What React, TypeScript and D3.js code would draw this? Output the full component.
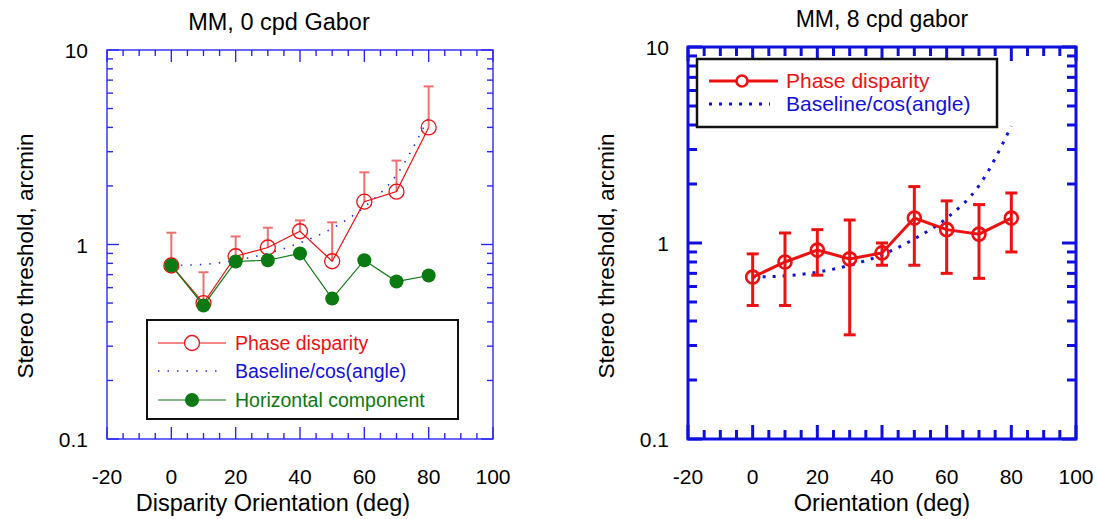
import * as d3 from 'd3';

// ---- data ----
const angles = [0, 10, 20, 30, 40, 50, 60, 70, 80];

// left panel: MM, 0 cpd Gabor
const phaseL = [0.78, 0.5, 0.87, 0.965, 1.17, 0.82, 1.66, 1.87, 4.0];
const phaseLErrTop = [1.15, 0.72, 1.1, 1.22, 1.33, 1.3, 2.35, 2.7, 6.5];
const baselineL = [0.78, 0.79, 0.83, 0.9, 1.02, 1.21, 1.56, 2.28, 4.5];
const horizontalL = [0.78, 0.486, 0.818, 0.83, 0.9, 0.527, 0.83, 0.645, 0.693];

// right panel: MM, 8 cpd gabor
const phaseR = [0.67, 0.8, 0.92, 0.83, 0.89, 1.34, 1.17, 1.11, 1.34];
const phaseRErrTop = [0.88, 1.125, 1.17, 1.31, 1.0, 1.94, 1.64, 1.57, 1.8];
const phaseRErrBottom = [0.48, 0.48, 0.685, 0.34, 0.77, 0.77, 0.7, 0.66, 0.9];
const baselineR = [0.67, 0.68, 0.71, 0.77, 0.87, 1.05, 1.34, 1.96, 3.95];

const xTickLabels = [-20, 0, 20, 40, 60, 80, 100];
const yTickLabels = [0.1, 1, 10];

const FONT = 'Liberation Sans, Arial, sans-serif';
const RED = '#ee1111';
const BLUE = '#1111dd';
const GREEN = '#0b7a12';

const minorX = d3.range(-20, 101, 5);
const minorY = [0.1, 1].flatMap(d => d3.range(1, 10).map(k => +(d * k).toFixed(2))).concat([10]);

type Sc = d3.ScaleLinear<number, number>;
type Lg = d3.ScaleLogarithmic<number, number>;

const Frame = ({ x, y, stroke, sw, major, minor }:
  { x: Sc; y: Lg; stroke: string; sw: number; major: number; minor: number }) => {
  const [x0, x1] = x.range();
  const [y0, y1] = y.range();
  return (
    <g>
      {minorX.map(v => {
        const len = v % 20 === 0 ? major : minor;
        return (
          <g key={'x' + v}>
            <line x1={x(v)} x2={x(v)} y1={y0} y2={y0 - len} stroke={stroke} strokeWidth={sw} />
            <line x1={x(v)} x2={x(v)} y1={y1} y2={y1 + len} stroke={stroke} strokeWidth={sw} />
          </g>
        );
      })}
      {minorY.map(v => {
        const len = yTickLabels.includes(v) ? major : minor;
        return (
          <g key={'y' + v}>
            <line x1={x0} x2={x0 + len} y1={y(v)} y2={y(v)} stroke={stroke} strokeWidth={sw} />
            <line x1={x1} x2={x1 - len} y1={y(v)} y2={y(v)} stroke={stroke} strokeWidth={sw} />
          </g>
        );
      })}
      <rect x={x0} y={y1} width={x1 - x0} height={y0 - y1} fill="none" stroke={stroke} strokeWidth={sw} />
      {xTickLabels.map(v => (
        <text key={'xl' + v} x={x(v)} y={484} textAnchor="middle" fontSize={21} fontFamily={FONT}>{v}</text>
      ))}
      {yTickLabels.map(v => (
        <text key={'yl' + v} x={x0 - 19} y={y(v) + 8} textAnchor="end" fontSize={21} fontFamily={FONT}>{v}</text>
      ))}
    </g>
  );
};

const App = () => {
  // left panel scales
  const xL = d3.scaleLinear().domain([-20, 100]).range([107, 493]);
  const yL = d3.scaleLog().domain([0.1, 10]).range([439, 50]);
  // right panel scales
  const xR = d3.scaleLinear().domain([-20, 100]).range([688, 1076]);
  const yR = d3.scaleLog().domain([0.1, 10]).range([439, 47]);

  const lineL = d3.line<number>().x((_, i) => xL(angles[i])).y(d => yL(d));
  const curveL = d3.line<number>().x((_, i) => xL(angles[i])).y(d => yL(d)).curve(d3.curveMonotoneX);
  const lineR = d3.line<number>().x((_, i) => xR(angles[i])).y(d => yR(d));
  const curveR = d3.line<number>().x((_, i) => xR(angles[i])).y(d => yR(d)).curve(d3.curveMonotoneX);

  return (
    <svg width={1097} height={519} style={{ position: 'absolute', left: 0, top: 0, background: '#fff' }}>
      {/* ---------- left panel ---------- */}
      <text x={279} y={30} textAnchor="middle" fontSize={23.5} fontFamily={FONT}>MM, 0 cpd Gabor</text>
      <Frame x={xL} y={yL} stroke="#2a2af5" sw={1.4} major={12} minor={6} />
      <text x={273} y={511} textAnchor="middle" fontSize={23.5} fontFamily={FONT}>Disparity Orientation (deg)</text>
      <text transform="translate(33,256) rotate(-90)" textAnchor="middle" fontSize={22.5} fontFamily={FONT}>Stereo threshold, arcmin</text>

      {phaseL.map((v, i) => (
        <g key={'el' + i} stroke="#f07070" strokeWidth={2}>
          <line x1={xL(angles[i])} x2={xL(angles[i])} y1={yL(v)} y2={yL(phaseLErrTop[i])} />
          <line x1={xL(angles[i]) - 5} x2={xL(angles[i]) + 5} y1={yL(phaseLErrTop[i])} y2={yL(phaseLErrTop[i])} />
        </g>
      ))}
      <path d={curveL(baselineL) || ''} fill="none" stroke="#2a2af5" strokeWidth={1.6} strokeDasharray="1.5,8" />
      <path d={lineL(phaseL) || ''} fill="none" stroke={RED} strokeWidth={1.2} />
      {phaseL.map((v, i) => (
        <circle key={'pl' + i} cx={xL(angles[i])} cy={yL(v)} r={7.5} fill="none" stroke={RED} strokeWidth={1.3} />
      ))}
      <path d={lineL(horizontalL) || ''} fill="none" stroke={GREEN} strokeWidth={1.2} />
      {horizontalL.map((v, i) => (
        <circle key={'hl' + i} cx={xL(angles[i])} cy={yL(v)} r={7} fill={GREEN} />
      ))}

      {/* left legend */}
      <rect x={147} y={320} width={311} height={99} fill="#fff" stroke="#111" strokeWidth={2} />
      <line x1={158} x2={226} y1={343} y2={343} stroke={RED} strokeWidth={1.2} />
      <circle cx={192} cy={343} r={7.5} fill="#fff" stroke={RED} strokeWidth={1.3} />
      <text x={235} y={350} fontSize={19.5} fontFamily={FONT} fill={RED}>Phase disparity</text>
      <line x1={158} x2={218} y1={371} y2={371} stroke="#2a2af5" strokeWidth={1.6} strokeDasharray="1.5,8" />
      <text x={235} y={378} fontSize={19.5} fontFamily={FONT} fill={BLUE}>Baseline/cos(angle)</text>
      <line x1={158} x2={226} y1={400} y2={400} stroke={GREEN} strokeWidth={1.2} />
      <circle cx={192} cy={400} r={7} fill={GREEN} />
      <text x={235} y={407} fontSize={19.5} fontFamily={FONT} fill={GREEN}>Horizontal component</text>

      {/* ---------- right panel ---------- */}
      <text x={882} y={27} textAnchor="middle" fontSize={23} fontFamily={FONT}>MM, 8 cpd gabor</text>
      <Frame x={xR} y={yR} stroke="#1010dd" sw={3} major={14} minor={9} />
      <text x={882} y={511} textAnchor="middle" fontSize={23.5} fontFamily={FONT}>Orientation (deg)</text>
      <text transform="translate(614,256) rotate(-90)" textAnchor="middle" fontSize={22.5} fontFamily={FONT}>Stereo threshold, arcmin</text>

      <path d={curveR(baselineR) || ''} fill="none" stroke={BLUE} strokeWidth={3} strokeDasharray="3,7" />
      {phaseR.map((v, i) => (
        <g key={'er' + i} stroke={RED} strokeWidth={3}>
          <line x1={xR(angles[i])} x2={xR(angles[i])} y1={yR(phaseRErrBottom[i])} y2={yR(phaseRErrTop[i])} />
          <line x1={xR(angles[i]) - 6} x2={xR(angles[i]) + 6} y1={yR(phaseRErrTop[i])} y2={yR(phaseRErrTop[i])} />
          <line x1={xR(angles[i]) - 6} x2={xR(angles[i]) + 6} y1={yR(phaseRErrBottom[i])} y2={yR(phaseRErrBottom[i])} />
        </g>
      ))}
      <path d={lineR(phaseR) || ''} fill="none" stroke={RED} strokeWidth={3} />
      {phaseR.map((v, i) => (
        <circle key={'pr' + i} cx={xR(angles[i])} cy={yR(v)} r={6.5} fill="none" stroke={RED} strokeWidth={2.6} />
      ))}

      {/* right legend */}
      <rect x={697} y={59} width={300} height={68} fill="#fff" stroke="#111" strokeWidth={2.5} />
      <line x1={709} x2={778} y1={81} y2={81} stroke={RED} strokeWidth={3} />
      <circle cx={742} cy={81} r={5.5} fill="#fff" stroke={RED} strokeWidth={2.6} />
      <text x={786} y={88} fontSize={21} fontFamily={FONT} fill={RED}>Phase disparity</text>
      <line x1={709} x2={770} y1={104} y2={104} stroke={BLUE} strokeWidth={3} strokeDasharray="3,7" />
      <text x={786} y={111} fontSize={21} fontFamily={FONT} fill={BLUE}>Baseline/cos(angle)</text>
    </svg>
  );
};

export default App;
